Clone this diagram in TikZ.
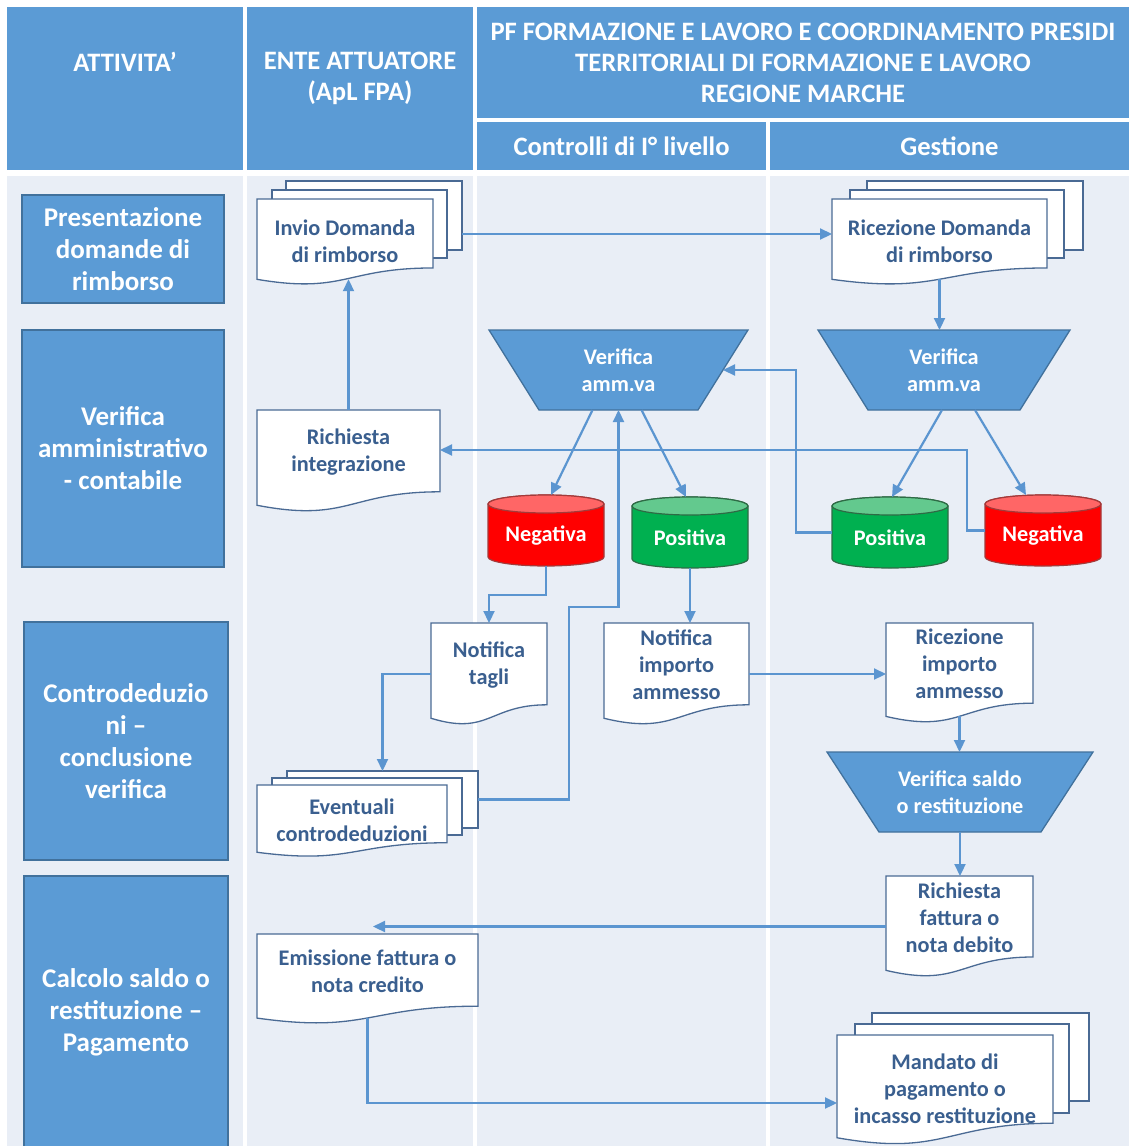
\documentclass[tikz,border=0pt]{standalone}
\usepackage{fontspec}
\setmainfont{Carlito}
\usetikzlibrary{calc,arrows.meta}

\definecolor{hblue}{HTML}{5B9BD5}
\definecolor{hedge}{HTML}{41719C}
\definecolor{panel}{HTML}{E9EEF6}
\definecolor{docedge}{HTML}{4A6A94}
\definecolor{docink}{HTML}{3A5F8F}
\definecolor{flow}{HTML}{5B95D0}
\definecolor{negbody}{HTML}{FF0000}
\definecolor{negtop}{HTML}{FF6666}
\definecolor{negedge}{HTML}{A33A3A}
\definecolor{posbody}{HTML}{00B050}
\definecolor{postop}{HTML}{63C98E}
\definecolor{posedge}{HTML}{2E6B45}

\pgfdeclarelayer{back}
\pgfdeclarelayer{mid}
\pgfsetlayers{back,mid,main}

% wave-bottomed document outline fitted to node #1
\newcommand\docshape[1]{%
  \draw[docline] (#1.north west) -- (#1.north east)
    -- ($(#1.north east)!0.802!(#1.south east)$)
    .. controls ($(#1.north)!0.802!(#1.south)$) and ($(#1.north)!1.107!(#1.south)$) ..
    ($(#1.north west)!0.934!(#1.south west)$) -- cycle;}

% document: name, x, y, width, height, text position, text
\newcommand\flowdoc[7]{%
  \node[box, minimum width=#4pt, minimum height=#5pt] (#1) at (#2,#3) {};
  \begin{pgfonlayer}{mid}\docshape{#1}\end{pgfonlayer}
  \node[doctxt] (#1-t) at ($(#1.north)!#6!(#1.south)$) {#7};}

% sheet behind a stacked document: name, x, y, width, height
\newcommand\flowpage[5]{%
  \begin{pgfonlayer}{mid}
    \node[page, minimum width=#4pt, minimum height=#5pt] (#1) at (#2,#3) {};
  \end{pgfonlayer}}

% inverted trapezoid: name, x, y, width, height, inset, text
\newcommand\flowtrap[7]{%
  \node[box, traptxt, minimum width=#4pt, minimum height=#5pt] (#1) at (#2,#3) {#7};
  \begin{pgfonlayer}{mid}
    \draw[trapline] (#1.north west) -- (#1.north east)
      -- ($(#1.south east)+(-#6,0)$) -- ($(#1.south west)+(#6,0)$) -- cycle;
  \end{pgfonlayer}}

% cylinder: name, x, y, body colour, top colour, edge colour, text
\newcommand\flowcyl[7]{%
  \node[box, minimum width=116pt, minimum height=71pt] (#1) at (#2,#3) {};
  \begin{pgfonlayer}{mid}
    \draw[draw=#6, line width=1.2pt, fill=#4]
      ($(#1.north west)+(0,9)$) -- ($(#1.south west)+(0,-9)$)
      arc[start angle=180, end angle=360, x radius=58pt, y radius=9pt]
      -- ($(#1.north east)+(0,9)$)
      arc[start angle=0, end angle=180, x radius=58pt, y radius=9pt] -- cycle;
    \draw[draw=#6, line width=1.2pt, fill=#5]
      ($(#1.north)+(0,9)$) ellipse[x radius=58pt, y radius=9pt];
  \end{pgfonlayer}
  \node[cyltxt] (#1-t) at ($(#1.center)+(0,5)$) {#7};}

\begin{document}
\begin{tikzpicture}[x=1pt, y=-1pt,
  box/.style={inner sep=0pt, outer sep=0pt, anchor=north west},
  hdr/.style={box, fill=hblue},
  hdrtxt/.style={text=white, align=center, inner sep=0pt,
    font=\bfseries\fontsize{26.6}{31}\selectfont},
  act/.style={box, fill=hblue, draw=hedge, line width=1.5pt, text=white,
    align=center, font=\bfseries\fontsize{27}{32}\selectfont},
  doctxt/.style={text=docink, align=center, inner sep=0pt,
    font=\bfseries\fontsize{22.3}{27}\selectfont},
  docline/.style={draw=docedge, line width=1.3pt, fill=white},
  page/.style={box, draw=docedge, line width=1.3pt, fill=white},
  trapline/.style={draw=hedge, line width=1.3pt, fill=hblue},
  traptxt/.style={text=white, align=center,
    font=\bfseries\fontsize{22.3}{27}\selectfont},
  cyltxt/.style={text=white, inner sep=0pt,
    font=\bfseries\fontsize{22.3}{27}\selectfont},
  flowarrow/.style={draw=flow, line width=2.2pt,
    -{Triangle[length=12pt, width=11pt]}}]

\useasboundingbox (0,0) rectangle (1129,1146);

% page and swimlane panels
\begin{pgfonlayer}{back}
  \fill[white] (0,0) rectangle (1129,1146);
  \fill[panel] (7,176) rectangle (243,1146);
  \fill[panel] (247,176) rectangle (473,1146);
  \fill[panel] (477,176) rectangle (766,1146);
  \fill[panel] (770,176) rectangle (1129,1146);
\end{pgfonlayer}

% header cells
\node[hdr, minimum width=236pt, minimum height=163pt] (hA) at (7,7) {};
\node[hdrtxt] (hA-t) at (125,62) {ATTIVITA’};
\node[hdr, minimum width=226pt, minimum height=163pt] (hB) at (247,7) {};
\node[hdrtxt] (hB-t) at (360,78) {ENTE ATTUATORE\\(ApL FPA)};
\node[hdr, hdrtxt, minimum width=652pt, minimum height=111pt] (hC) at (477,7)
  {PF FORMAZIONE E LAVORO E COORDINAMENTO PRESIDI\\TERRITORIALI DI FORMAZIONE E LAVORO\\REGIONE MARCHE};
\node[hdr, hdrtxt, minimum width=289pt, minimum height=48pt] (hD) at (477,122) {Controlli di I° livello};
\node[hdr, hdrtxt, minimum width=359pt, minimum height=48pt] (hE) at (770,122) {Gestione};

% activities
\node[act, minimum width=202pt, minimum height=108pt] (a1) at (22,195) {Presentazione\\domande di\\rimborso};
\node[act, minimum width=202pt, minimum height=237pt] (a2) at (22,330) {Verifica\\amministrativo\\- contabile};
\node[act, minimum width=204pt, minimum height=238pt] (a3) at (24,622) {Controdeduzio\\ni –\\conclusione\\verifica};
\node[act, minimum width=204pt, minimum height=272pt] (a4) at (24,876) {Calcolo saldo o\\restituzione –\\Pagamento};

% documents
\flowpage{inv3}{286}{181}{176}{69}
\flowpage{inv2}{272}{190}{175}{68}
\flowdoc{inv}{257}{199}{176}{86}{0.49}{Invio Domanda\\di rimborso}

\flowpage{ric3}{867}{181}{216}{69}
\flowpage{ric2}{850}{190}{214}{68}
\flowdoc{ric}{832}{199}{215}{86}{0.49}{Ricezione Domanda\\di rimborso}

\flowdoc{rint}{257}{410}{183}{102}{0.41}{Richiesta\\integrazione}
\flowdoc{ntag}{431}{623}{116}{102}{0.41}{Notifica\\tagli}
\flowdoc{nimp}{604}{623}{145}{102}{0.41}{Notifica\\importo\\ammesso}
\flowdoc{rimp}{886}{623}{147}{100}{0.41}{Ricezione\\importo\\ammesso}
\flowdoc{rfat}{886}{876}{147}{101}{0.41}{Richiesta\\fattura o\\nota debito}
\flowdoc{emis}{257}{934}{221}{90}{0.41}{Emissione fattura o\\nota credito}

\flowpage{ev3}{287}{771}{191}{57}
\flowpage{ev2}{272}{778}{190}{57}
\flowdoc{ev}{257}{785}{190}{72}{0.49}{Eventuali\\controdeduzioni}

\flowpage{man3}{872}{1013}{217}{88}
\flowpage{man2}{855}{1024}{214}{89}
\flowdoc{man}{837}{1035}{216}{110}{0.49}{Mandato di\\pagamento o\\incasso restituzione}

% checks
\flowtrap{vL}{489}{330}{259}{80}{50}{Verifica\\amm.va}
\flowtrap{vR}{818}{330}{252}{80}{50}{Verifica\\amm.va}
\flowtrap{vS}{827}{752}{266}{80}{52}{Verifica saldo\\o restituzione}

% outcomes
\flowcyl{negL}{488}{495}{negbody}{negtop}{negedge}{Negativa}
\flowcyl{posL}{632}{497}{posbody}{postop}{posedge}{Positiva}
\flowcyl{posR}{832}{497}{posbody}{postop}{posedge}{Positiva}
\flowcyl{negR}{985}{495}{negbody}{negtop}{negedge}{Negativa}

% connectors
\coordinate (kA) at (0,234);
\draw[flowarrow] (inv3.east |- kA) -- (ric.west |- kA);

\coordinate (wRic) at ($(ric.north)!0.933!(ric.south)$);
\draw[flowarrow] (wRic) -- (wRic |- vR.north);

\coordinate (wInv) at ($(inv.north)!0.933!(inv.south)$);
\draw[flowarrow] (rint.north) -- (rint.north |- wInv);

\draw[flowarrow] ($(vL.south)+(-26,0)$) -- ($(negL.north)+(5,0)$);
\draw[flowarrow] ($(vL.south)+(23,0)$) -- ($(posL.north)+(-4,0)$);
\draw[flowarrow] ($(vR.south)+(-2,0)$) -- ($(posR.north)+(2,0)$);
\draw[flowarrow] ($(vR.south)+(31,0)$) -- ($(negR.north)+(-17,0)$);

\coordinate (k1) at (796,370);
\draw[flowarrow] (posR.west) -| (k1) -- ($(vL.east)+(-25,0)$);

\coordinate (k2) at (967,450);
\draw[flowarrow] (negR.west) -| (k2) -- (k2 -| rint.east);

\draw[flowarrow] (negL.south) -- ++(0,29) -| (ntag.north);
\draw[flowarrow] (posL.south) -- (posL.south |- nimp.north);
\draw[flowarrow] (ntag.west) -| (ev3.north);

\coordinate (k3) at (569,607);
\draw[flowarrow] (ev3.east) -| (k3) -| (vL.south);

\draw[flowarrow] (nimp.east) -- (nimp.east -| rimp.west);

\coordinate (wRimp) at ($(rimp.north)!0.933!(rimp.south)$);
\draw[flowarrow] (wRimp) -- (wRimp |- vS.north);
\draw[flowarrow] (vS.south) -- (vS.south |- rfat.north);

\coordinate (kE) at (373,927);
\draw[flowarrow] (rfat.west) -- (rfat.west -| kE);

\coordinate (wEmis) at ($(emis.north)!0.933!(emis.south)$);
\draw[flowarrow] (wEmis) |- ($(man.west)+(0,13)$);

\end{tikzpicture}
\end{document}
